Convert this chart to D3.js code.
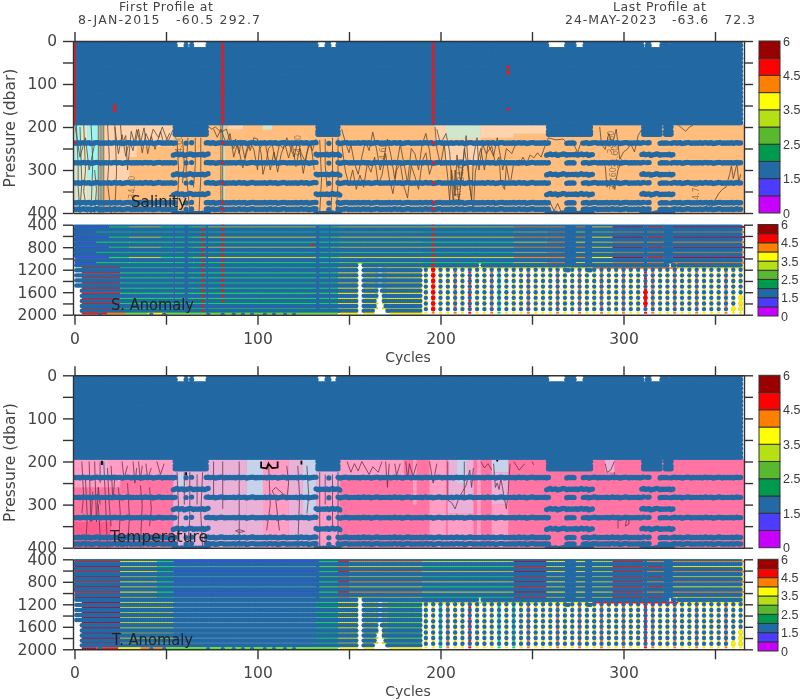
<!DOCTYPE html>
<html><head><meta charset="utf-8">
<script src="https://cdn.jsdelivr.net/npm/d3@7/dist/d3.min.js"></script>
<style>html,body{margin:0;background:#fff}svg{display:block;filter:blur(.5px)}text{font-family:"DejaVu Sans",sans-serif;fill:#3a3a3a}</style>
</head><body><svg id="c" width="800" height="700"></svg>
<script>
// ---------- tick labels and annotation ----------
const xTicks=[0,50,100,150,200,250,300,350];
const xLabels=[0,100,200,300];
const upperTicks=[0,50,100,150,200,250,300,350,400];
const upperLabels=[0,100,200,300,400];
const deepTicks=[400,600,800,1000,1200,1400,1600,1800,2000];
const deepLabels=[400,800,1200,1600,2000];
const barLevels=[0,1,1.5,2,2.5,3,3.5,4,4.5,5,6];
const barLabels=[0,1.5,2.5,3.5,4.5,6];
const barColors=["#c800ff","#4b3cff","#2369a3","#009a4e","#59b92e","#b4e014","#ffff00","#ff8000","#ff0000","#990000"];
const stripBands=[1,1.5,1.9,2,2.5,3,3.5,4,4.5,5];
const stripColors=["#c800ff","#4b3cff","#2369a3","#5f93bd","#14e050","#60e028","#c8d820","#ffee00","#ff8000","#ff1000","#a8103a"];
// ---------- measurement structure (cycles, pressures) ----------
const shallowLevels=[0,10,20,30,40,50,60,70,80,90,100,110,120,130,140,150,160,170,180,190];
const blobLevels=[200,210,217];
const normalRows=[237,283,330,376,391];
const shiftedRows=[264,310,356,401];
const rowWobble=[0,.5,-.5,1,0,-1,.5,0,-.5,1.5,.5,0,-1,-.5,1,0,.5];
const normalRuns=[[0,55],[61,61],[64,64],[72,132],[139,139],[144,259],[269,273],[278,311],[313,314],[320,324],[326,364]];
const shiftedRuns=[[54,73],[132,145],[258,283],[310,321],[322,327]];
const blobRuns=[[55,72],[133,144],[259,282],[311,320],[323,326]];
const surfaceGaps=[[56,60],[62,63],[65,72],[133,137],[140,143],[259,268],[274,278],[311,312],[315,320],[325,325]];
const deepRows=[395,485,575,665,755,845,935,1030,1120,1210,1300,1390,1480,1572,1665,1755,1845,1930];
const stripRows=[440,530,620,710,800,890,980,1075,1165,1255,1345,1435,1525,1620,1710,1800,1885];
const deepStart=[[1000,0],[1500,1],[2001,4]];
const deepLimits=[[155,1100],[156,1100],[157,1100],[164,1900],[165,1700],[166,1560],[167,1540],[168,1650],[169,1780],[170,1880],[171,1960],[221,1040],[222,1040],[269,1220],[270,1220],[281,1220],[282,1220],[325,1040],[326,1040],[329,1040]];
const solidLimit=[[0,190,2000],[190,366,1130]];
const columnCycles=[192,196,200,204,208,212,216,220,224,228,232,236,240,244,248,252,256,260,264,268,272,276,280,284,288,292,296,300,304,308,312,316,320,324,328,332,336,340,344,348,352,356,360,364];
const columnRows=[1200,1300,1400,1500,1600,1700,1800,1900];
const columnStrips=[1250,1350,1450,1550,1650,1750,1850,1965];
const bottomDots=[14,42,49,73,81,87,92,97,104,109,115,120];
// ---------- salinity field, dbar 196-400 ----------
const salinityBands=[34.56,34.6,34.64,34.68];
const salinityFill=["#9ff5f2","#cfe6cf","#e6e6c8","#ffd3ad","#ffbe7e"];
const salinityCells=[[-1,366,194,400,34.7],[0,4,194,290,34.5],[0,4,290,400,34.58],[4,7,194,400,34.62],[7,13,194,320,34.5],[7,13,320,400,34.58],[13,16,194,400,34.58],[16,34,194,270,34.66],[34,54,194,245,34.66],[16,30,270,330,34.66],[84,92,194,205,34.66],[103,108,194,206,34.58],[197,203,194,240,34.66],[203,222,194,227,34.58],[203,222,227,290,34.66],[222,240,194,225,34.66],[240,258,194,215,34.66],[81,82,194,400,34.5]];
const salinityContours=[
[[1,190],[2,290],[2,340],[3,400]],[[5,190],[6,300],[5,350],[7,400]],[[9,190],[10,280],[9,400]],[[13,190],[13,400]],[[14,190],[14,400]],[[15,190],[15,400]],[[16,190],[16,400]],[[18,190],[19,270],[18,330],[20,400]],[[22,190],[23,300],[22,400]],[[11,300],[12,345],[11,400]],[[3,200],[4,330],[3,390]],
[[25,190],[26,240],[28,220],[29,300],[31,210],[33,240],[35,205],[37,260],[39,215],[41,235],[43,205],[46,225],[48,200],[51,235],[54,205]],
[[22,200],[24,262],[26,218],[28,268],[30,232],[32,255],[34,206],[36,238],[38,202],[40,262],[42,222],[44,252],[47,210],[49,242],[52,214]],
[[0,190],[3,270],[6,225],[8,300],[11,240]],
[[56,230],[57,310],[56,400]],[[59,228],[60,285],[59,330]],[[62,225],[61,300],[63,400]],[[66,225],[66,290],[65,340]],[[69,225],[69,320],[68,400]],[[81,194],[81,400]],[[80,194],[80,400]],
[[73,198],[75,205],[77,200],[80,212],[83,205],[85,232],[87,250],[88,228],[90,262],[91,230],[93,272],[95,238],[96,255],[98,225],[100,228],[102,262],[103,310],[105,275],[106,250],[108,240],[110,282],[112,240],[114,250],[116,225],[118,248],[120,270],[122,232],[124,262],[126,280],[128,240],[130,255],[132,228]],
[[76,205],[78,224],[80,205],[83,240],[85,215],[87,270],[89,238],[92,295],[94,260],[96,236],[98,252],[100,300],[101,252],[104,232],[107,300],[109,258],[111,305],[113,262],[115,240],[117,272],[119,240],[121,292],[123,250],[125,308],[127,262],[129,232],[131,300]],
[[134,230],[135,320],[134,400]],[[137,228],[137,290],[138,340]],[[141,225],[141,330],[140,400]],[[144,225],[144,330],[143,400]],
[[146,205],[148,235],[150,260],[151,240],[153,285],[155,310],[157,270],[159,232],[161,255],[163,212],[165,250],[167,300],[169,272],[171,228],[173,268],[175,320],[177,265],[178,240],[180,285],[182,330],[184,250],[186,262],[188,300],[190,240],[192,215],[194,255],[195,290]],
[[146,240],[148,302],[150,335],[152,300],[154,345],[156,312],[158,340],[160,285],[162,305],[164,270],[166,335],[168,312],[170,262],[172,320],[174,355],[176,300],[178,285],[180,338],[182,365],[184,290],[186,315],[188,345],[190,280],[192,260],[194,310],[196,280]],
[[197,200],[198,250],[200,290],[202,240],[204,320],[205,370],[206,300],[208,360],[209,265],[211,330],[213,250],[215,300],[217,370],[218,270],[220,225],[221,300],[223,240],[225,262],[228,245],[230,285],[232,270],[233,330],[235,345],[236,290],[238,335],[240,285],[243,290],[245,270],[247,285],[249,265],[251,272],[253,260],[255,270],[257,245],[259,225],[263,230],[267,228],[270,240],[272,232],[275,260],[277,232]],
[[198,205],[200,240],[203,215],[205,258],[207,380],[208,300],[210,372],[212,300],[214,220],[216,340],[218,395],[219,305],[222,250],[224,300],[226,240],[229,268],[231,225],[234,300],[236,250],[239,262],[241,240]],
[[287,200],[288,240],[290,252],[292,215],[294,240],[296,205],[298,275],[300,258],[302,252],[304,240],[306,258],[308,220],[310,205]],
[[290,290],[291,340],[293,320],[295,345],[297,300],[299,275]],
[[260,376],[262,395],[264,378],[266,398]],
[[344,395],[346,380],[348,385],[350,370],[352,355],[354,345],[356,340],[358,310],[359,290],[360,320],[362,285],[363,330],[364,310]],
[[330,196],[334,210],[336,200],[338,196]]];
const salinityNotes=[[59,245,"34.60"],[33,340,"34.60"],[124,245,"34.60"],[170,262,"34.60"],[295,235,"34.60"],[297,270,"34.60"],[296,320,"34.60"],[213,300,"34.60"],[211,350,"34.60"],[341,355,"34.70"]];
// ---------- temperature field, dbar 196-400 ----------
const temperatureBands=[2,3,4,5];
const temperatureFill=["#ff5c8e","#ff74a3","#ff9dc5","#e9b1d8","#c6d2e9"];
const temperatureCells=[[-1,366,194,400,2.5],[0,25,194,260,3.5],[25,55,194,238,3.5],[0,20,340,400,1.5],[14,18,194,240,4.5],[54,73,194,400,4.5],[57,60,225,260,5.5],[73,94,194,400,4.5],[94,103,194,290,5.5],[94,103,290,400,4.5],[103,117,194,400,3.5],[117,132,194,400,4.5],[125,132,194,320,5.5],[132,145,194,260,4.5],[132,145,260,400,3.5],[145,180,194,240,3.5],[185,187,194,300,3.5],[194,203,194,400,3.5],[204,218,194,320,4.5],[209,214,194,250,5.5],[204,218,320,400,3.5],[228,237,194,225,5.5],[228,237,225,300,4.5],[228,237,300,400,3.5],[220,222,194,400,3.5],[290,295,194,225,4.5]];
const temperatureContours=[
[[4,200],[5,280],[4,320]],[[8,200],[9,340],[10,270]],[[11,200],[12,340],[13,260],[14,300]],[[14,200],[14,250]],[[16,200],[17,300],[18,400]],[[20,210],[21,290],[22,240]],[[26,200],[27,240],[29,210]],[[24,260],[25,320],[24,400]],[[35,200],[36,245],[37,210]],[[36,255],[37,300],[36,400]],[[45,200],[47,230],[49,205]],[[6,240],[7,330],[6,400]],[[13,300],[14,370],[13,400]],[[18,215],[19,300],[20,350]],[[29,250],[30,330],[29,400]],[[32,200],[33,250],[34,215]],[[39,205],[40,240],[42,215]],[[41,260],[42,310],[41,350]],
[[56,225],[57,320],[56,400]],[[60,225],[60,300]],[[63,225],[63,330],[62,400]],[[67,230],[67,300]],[[70,225],[69,320],[70,400]],
[[76,200],[76,280]],[[81,200],[81,310]],[[90,200],[90,330],[90,400]],[[90,358],[93,362],[90,365],[88,361],[90,358]],[[106,200],[107,300],[105,360]],[[110,260],[114,275],[110,285],[108,268],[110,260]],[[110,290],[112,360]],[[116,210],[117,250],[116,290]],[[122,210],[123,280],[122,400]],[[127,210],[128,280],[127,320]],
[[134,225],[134,320],[134,400]],[[137,230],[137,300]],[[144,225],[144,320],[144,400]],[[141,230],[141,360]],
[[149,200],[151,225],[153,205],[155,222],[157,200],[161,230],[163,212],[166,225],[168,200]],[[170,200],[171,260],[172,205]],[[175,205],[176,232],[178,205]],
[[181,200],[182,240],[183,205],[185,235],[187,205]],[[194,200],[196,250],[198,205]],[[204,200],[204,290],[206,295],[208,310],[210,285],[212,270],[214,255],[216,220],[217,260],[218,215]],[[213,200],[213,280]],[[222,200],[224,215],[226,205],[228,220]],[[229,205],[230,260],[231,250],[232,265],[233,240],[236,310],[237,270],[238,205]],[[240,200],[243,220],[246,205]],
[[250,200],[251,208]],[[290,205],[291,225],[293,220],[295,200]],[[295,225],[295,232]],[[297,335],[297,355]],[[302,328],[301,350],[303,345],[303,330],[302,328]]];
const temperatureBlack=[[[102,200],[102,214],[105,216],[106,205],[108,215],[111,214],[111,200]],[[15,198],[15,208]],[[61,225],[61,232]],[[124,198],[124,207]],[[231,196],[231,200]]];
// ---------- anomaly strips [first cycle, last cycle, value] ----------
const sUpperA=[[0,19,1.2],[19,30,2.2],[30,47,3.2],[47,54,2.2],[54,55,1.75],[55,60,2.2],[60,62,1.75],[62,65,2.2],[65,72,2.7],[72,73,1.75],[73,132,3.2],[132,134,1.75],[134,139,2.2],[139,140,1.75],[140,145,2.7],[145,190,3.4],[190,240,3.2],[240,258,4.2],[258,268,4.2],[268,274,1.75],[274,279,4.2],[279,283,1.75],[283,294,3.7],[294,311,5.2],[311,313,1.75],[313,322,4.7],[322,327,1.75],[327,366,5.2]];
const sUpperB=[[0,12,1.2],[12,30,2.2],[30,54,2.2],[54,55,1.75],[55,60,2.2],[60,62,1.75],[62,65,2.2],[65,72,2.2],[72,73,1.75],[73,132,2.2],[132,134,1.75],[134,139,2.2],[139,140,1.75],[140,145,2.2],[145,190,2.7],[190,240,2.2],[240,258,3.4],[258,268,4.2],[268,274,1.75],[274,279,3.7],[279,283,1.75],[283,294,3.4],[294,311,4.2],[311,313,1.75],[313,322,4.2],[322,327,1.75],[327,366,4.2]];
const sLower=[[4,25,4.7],[25,54,2.2],[54,55,1.75],[55,60,2.2],[60,62,1.75],[62,65,2.2],[65,72,2.2],[72,73,1.75],[73,132,2.2],[132,134,1.75],[134,139,2.2],[139,140,1.75],[140,144,2.2],[144,155,3.7],[158,164,3.7],[164,166,3.4],[168,171,3.4],[171,190,3.7]];
const sBottom=[[4,18,4.7],[18,28,4.2],[28,40,2.7],[40,50,3.7],[50,72,2.7],[73,144,2.7],[145,155,3.7],[158,164,3.7],[172,190,3.7]];
const sEdge=[[190,258,3.7],[258,283,3.9],[283,330,4.4],[330,366,3.9]];
const sColumns=[3.7,4.2,3.7,3.7,4.2,3.7,4.7,3.7,3.7,4.2,2.2,3.7,3.7,3.7,4.2,3.7,3.7,3.7,4.2,3.7,3.7,4.2,3.7,3.7,4.2,3.7,3.7,4.2,3.7,3.7,4.7,4.2,3.7,3.7,4.2,3.7,3.7,4.2,3.7,3.7,3.7,4.2,3.7,3.7];
const tUpperA=[[0,25,4.7],[25,45,3.9],[45,54,2.2],[54,73,1.2],[73,132,1.2],[132,134,1.75],[134,144,2.2],[144,150,4.7],[150,190,4.2],[190,240,3.2],[240,258,5.2],[258,268,3.7],[268,274,1.75],[274,279,3.7],[279,283,1.75],[283,294,3.2],[294,311,4.7],[311,313,1.75],[313,322,4.2],[322,327,1.75],[327,366,4.2]];
const tUpperB=[[0,25,5.2],[25,45,3.4],[45,54,2.2],[54,73,1.95],[73,132,1.95],[132,134,1.75],[134,144,2.7],[144,150,4.2],[150,190,3.4],[190,240,2.2],[240,258,4.7],[258,268,3.4],[268,274,1.75],[274,279,3.4],[279,283,1.75],[283,294,3.4],[294,311,4.7],[311,313,1.75],[313,322,4.7],[322,327,1.75],[327,366,3.9]];
const tLower=[[4,25,5.2],[25,54,3.2],[54,73,1.95],[73,132,1.95],[132,144,2.2],[144,155,3.7],[158,164,3.4],[164,166,3.2],[168,171,3.2],[171,190,2.7]];
const tBottom=[[4,12,5.2],[12,24,4.7],[24,36,3.7],[36,50,4.2],[50,72,2.7],[73,144,2.7],[145,155,3.7],[158,164,3.7],[172,190,3.7]];
const tEdge=[[190,258,3.4],[258,283,3.7],[283,330,4.7],[330,366,3.9]];
const tColumns=[3.7,3.7,2.2,4.2,3.7,3.7,4.7,3.7,3.7,3.7,2.2,3.7,2.2,3.7,4.2,3.7,3.7,3.7,4.2,3.7,3.7,4.2,3.7,3.7,4.2,3.7,3.7,4.2,3.7,3.7,4.7,4.2,3.7,3.7,4.2,3.7,3.7,4.2,3.7,3.7,3.7,4.2,3.7,3.7];
// ---------- flagged points [cycle, pressures] ----------
const flagTop=[0,7,14,21,28,35,42,49,56,63,70,77,84,91,98,105,112,119,126,133,140,147,154,161,168,175,182,189];
const salinityFlags=[[0,flagTop.concat([237])],[22,[150,156,162]],[81,flagTop.concat([237,283,330,376,391])],[196,flagTop.concat([237,283,330,376,391])],[237,[60,68,75,158]]];
const sAnomalyFlags=[[70,[485,575,665,755,845,935,1030,1120,1210,1300,1390,1480,1572,1665,1755,1845,1930]],[81,[395,485,575,665,755,845,935,1030,1120,1210,1300,1390,1480,1572,1665,1755]],[130,[755]],[196,[395,485,575,665,755,845,935,1030,1120]]];
const sAnomalyBig=[[196,[1200,1300,1400,1500,1600,1700,1800,1900]],[312,[1600,1700,1800]]];
const yellowDots=[[364,[1700,1800,1900]],[360,[1900]]];

const svg=d3.select("#c");
const x=d3.scaleLinear().domain([-0.82,365.85]).range([73,744]);
const cycles=d3.range(0,365);
const inRuns=(c,runs)=>runs.some(r=>c>=r[0]&&c<=r[1]);
const stripColor=d3.scaleThreshold().domain(stripBands).range(stripColors);
let clipN=0;
function panel(top,bottom,dom){
  const y=d3.scaleLinear().domain(dom).range([top,bottom]);
  const id="clip"+(clipN++);
  svg.append("clipPath").attr("id",id).append("rect").attr("x",73).attr("y",top).attr("width",671).attr("height",bottom-top);
  return {y,g:svg.append("g").attr("clip-path",`url(#${id})`),top,bottom};
}
function dots(g,pts,fill,r){
  g.append("g").attr("fill",fill).selectAll("circle").data(pts).join("circle")
   .attr("cx",d=>x(d[0])).attr("cy",d=>d[2]).attr("r",r);
}
function upper(top,bottom,cells,bands,fills,contours,black,notes,flags,contourCol){
  const P=panel(top,bottom,[0,400]),y=P.y,g=P.g;
  const fill=d3.scaleThreshold().domain(bands).range(fills);
  g.append("g").selectAll("rect").data(cells).join("rect")
    .attr("x",d=>x(d[0])).attr("width",d=>x(d[1])-x(d[0])).attr("y",d=>y(d[2])).attr("height",d=>y(d[3])-y(d[2])).attr("fill",d=>fill(d[4]));
  const line=d3.line().x(d=>x(d[0])).y(d=>y(d[1]));
  g.append("g").attr("fill","none").attr("stroke",contourCol).attr("stroke-width",.8).selectAll("path").data(contours).join("path").attr("d",line);
  g.append("g").attr("fill","none").attr("stroke","#000").attr("stroke-width",1.8).selectAll("path").data(black).join("path").attr("d",line);
  g.append("g").attr("opacity",.6).selectAll("text").data(notes).join("text").attr("font-size",8).style("fill",contourCol)
    .attr("text-anchor","middle").attr("transform",d=>`translate(${x(d[0])},${y(d[1])}) rotate(-90)`).text(d=>d[2]);
  const pts=[];
  cycles.forEach(c=>{
    const gap=inRuns(c,surfaceGaps), w=rowWobble[c%rowWobble.length];
    shallowLevels.forEach(p=>{ if(!(gap&&p<20)) pts.push([c,p,y(p)]); });
    if(inRuns(c,blobRuns)) blobLevels.forEach(p=>pts.push([c,p,y(p)]));
    if(inRuns(c,shiftedRuns)) shiftedRows.forEach(p=>pts.push([c,p,y(p+w*1.5)]));
    if(inRuns(c,normalRuns)) normalRows.forEach(p=>pts.push([c,p,y(p+w)]));
  });
  dots(g,pts,"#2369a3",2.6);
  const red=[];flags.forEach(f=>f[1].forEach(p=>red.push([f[0],p,y(p)])));
  dots(g,red,"#f01818",1.6);
  return P;
}
function deep(top,bottom,upA,upB,low,bot,edge,cols,flags,big,yellow){
  const P=panel(top,bottom,[400,2000]),y=P.y,g=P.g;
  const strips=[];
  stripRows.forEach((p,i)=>{
    const runs=p<1120?(i%2?upB:upA):low;
    runs.forEach(r=>strips.push({c0:r[0],c1:r[1],p,v:r[2]}));
  });
  edge.forEach(r=>strips.push({c0:r[0],c1:r[1],p:1168,v:r[2]}));
  columnCycles.forEach((c,i)=>columnStrips.forEach(p=>strips.push({c0:c-.8,c1:c+.8,p,v:cols[i]})));
  g.append("g").selectAll("rect").data(strips).join("rect")
    .attr("x",d=>x(d.c0)).attr("width",d=>x(d.c1)-x(d.c0)).attr("y",d=>y(d.p)-1).attr("height",2).attr("fill",d=>stripColor(d.v));
  const pts=[];
  const limit=new Map(deepLimits);
  cycles.forEach(c=>{
    const lim=limit.has(c)?limit.get(c):solidLimit.find(s=>c>=s[0]&&c<s[1])[2];
    deepRows.forEach(p=>{
      if(p>lim) return;
      const st=deepStart.find(s=>p<=s[0])[1];
      if(c>=st) pts.push([c,p,y(p)]);
    });
  });
  columnCycles.forEach(c=>columnRows.forEach(p=>pts.push([c,p,y(p)])));
  dots(g,pts,"#2369a3",2.2);
  g.append("g").selectAll("rect").data(bot).join("rect")
    .attr("x",d=>x(d[0])).attr("width",d=>x(d[1])-x(d[0])).attr("y",bottom-2).attr("height",2).attr("fill",d=>stripColor(d[2]));
  dots(g,bottomDots.map(c=>[c,2000,y(2000)]),"#2369a3",2.2);
  const red=[];flags.forEach(f=>f[1].forEach(p=>red.push([f[0],p,y(p)])));
  dots(g,red,"#f01818",1.4);
  const bigR=[];big.forEach(f=>f[1].forEach(p=>bigR.push([f[0],p,y(p)])));
  dots(g,bigR,"#ff0000",2.3);
  const yel=[];yellow.forEach(f=>f[1].forEach(p=>yel.push([f[0],p,y(p)])));
  dots(g,yel,"#ffee00",2.4);
  return P;
}
function frame(A,B){
  const ax=s=>s.call(g=>{g.selectAll("path,line").attr("stroke","#333").attr("stroke-width",1.4);g.selectAll("text").style("font-size","15.5px").style("fill","#444").attr("font-family","DejaVu Sans");});
  svg.append("g").attr("transform",`translate(73,0)`).call(d3.axisLeft(A.y).tickValues(upperTicks).tickSize(10).tickPadding(6).tickSizeOuter(0).tickFormat(d=>upperLabels.includes(d)?d:"")).call(ax);
  svg.append("g").attr("transform",`translate(744,0)`).call(d3.axisRight(A.y).tickValues(upperTicks).tickSize(9).tickSizeOuter(0).tickFormat("")).call(ax);
  svg.append("g").attr("transform",`translate(0,${A.top})`).call(d3.axisTop(x).tickValues(xTicks).tickSize(9).tickSizeOuter(0).tickFormat("")).call(ax);
  svg.append("g").attr("transform",`translate(0,${A.bottom})`).call(d3.axisBottom(x).tickValues([]).tickSize(0).tickSizeOuter(0)).call(ax);
  svg.append("g").attr("transform",`translate(73,0)`).call(d3.axisLeft(B.y).tickValues(deepTicks).tickSize(10).tickPadding(6).tickSizeOuter(0).tickFormat(d=>deepLabels.includes(d)?d:"")).call(ax);
  svg.append("g").attr("transform",`translate(744,0)`).call(d3.axisRight(B.y).tickValues(deepTicks).tickSize(9).tickSizeOuter(0).tickFormat("")).call(ax);
  svg.append("g").attr("transform",`translate(0,${B.bottom})`).call(d3.axisBottom(x).tickValues(xTicks).tickSize(10).tickSizeOuter(0).tickPadding(8).tickFormat(d=>xLabels.includes(d)?d:"")).call(ax);
  svg.append("text").attr("x",408).attr("y",B.bottom+47).attr("text-anchor","middle").attr("font-size",14).style("fill","#444").text("Cycles");
  svg.append("text").attr("transform",`translate(15,${(A.top+A.bottom)/2+1}) rotate(-90)`).attr("text-anchor","middle").attr("font-size",15.5).style("fill","#444").text("Pressure (dbar)");
}
function colorbar(x0,x1,top,bottom,tx){
  const idx=d3.scaleLinear().domain([0,barColors.length]).range([bottom,top]);
  svg.append("g").selectAll("rect").data(barColors).join("rect")
   .attr("x",x0).attr("width",x1-x0).attr("y",(d,i)=>idx(i+1)).attr("height",(d,i)=>idx(i)-idx(i+1)).attr("fill",d=>d).attr("stroke","#333").attr("stroke-width",1);
  svg.append("g").selectAll("text").data(barLabels).join("text").attr("x",tx).attr("y",d=>idx(barLevels.indexOf(d))+4.5)
   .style("font-family","Liberation Sans").attr("font-size",12.5).text(d=>d);
}
function label(tx,ty,t,w){svg.append("text").attr("x",tx).attr("y",ty).attr("font-size",15).style("fill","#222").attr("textLength",w).attr("lengthAdjust","spacingAndGlyphs").text(t);}
function head(x0,w,ty,t){svg.append("text").attr("x",x0).attr("y",ty).attr("font-size",12.5).attr("textLength",w).attr("lengthAdjust","spacing").attr("xml:space","preserve").style("white-space","pre").style("fill","#444").text(t);}

const p1=upper(41,213,salinityCells,salinityBands,salinityFill,salinityContours,[],salinityNotes,salinityFlags,"#5a4632");
const p2=deep(224.7,314.7,sUpperA,sUpperB,sLower,sBottom,sEdge,sColumns,sAnomalyFlags,sAnomalyBig,yellowDots);
const p3=upper(375.3,547.7,temperatureCells,temperatureBands,temperatureFill,temperatureContours,temperatureBlack,[],[],"#6a3448");
const p4=deep(559.3,649.3,tUpperA,tUpperB,tLower,tBottom,tEdge,tColumns,[],[],yellowDots);
frame(p1,p2);frame(p3,p4);
colorbar(759,780,41,213,783);colorbar(758,778,224.5,316,781);
colorbar(759,780,375.3,547.7,783);colorbar(758,778,559.3,651,781);
label(131,207,"Salinity",56);label(111,310,"S. Anomaly",83);label(110,542,"Temperature",98);label(112,645,"T. Anomaly",81);
head(119,94,11,"First Profile at");head(78,182,24,"8-JAN-2015   -60.5 292.7");
head(613,93,11,"Last Profile at");head(565,190,24,"24-MAY-2023   -63.6   72.3");
</script></body></html>
